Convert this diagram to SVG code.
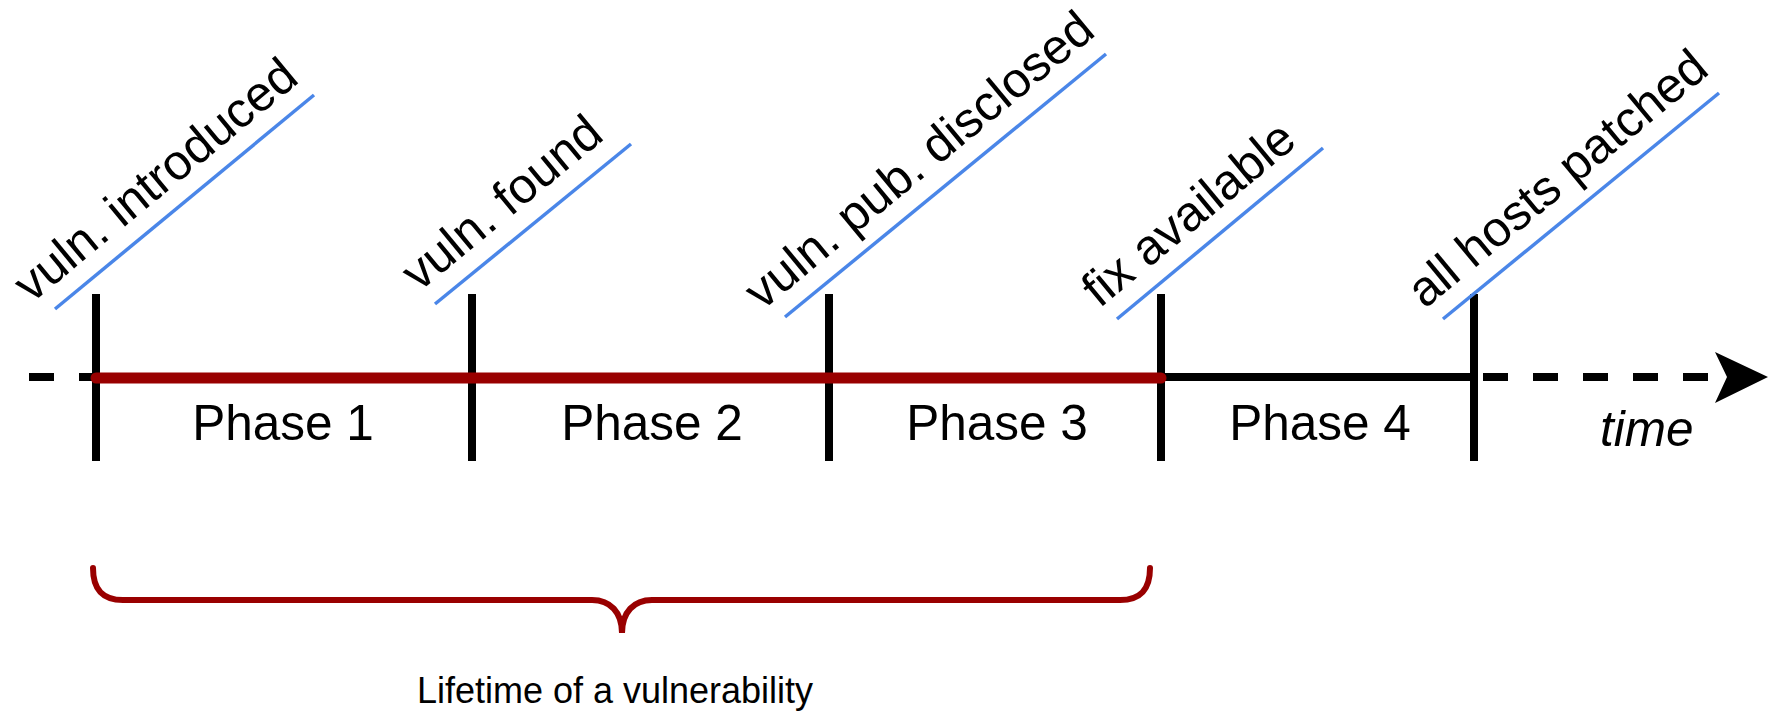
<svg xmlns="http://www.w3.org/2000/svg" width="1776" height="711" viewBox="0 0 1776 711">
<style>
.lbl{font-family:"Liberation Sans",Arial,Helvetica,sans-serif;font-size:49.5px;fill:#000}
.ul{stroke:#4a86e8;stroke-width:3.5;fill:none}
.tick{stroke:#000;stroke-width:8;fill:none}
.axis{stroke:#000;stroke-width:8;fill:none}
.dash{stroke:#000;stroke-width:8;fill:none;stroke-dasharray:25 25}
.life{stroke:#990000;stroke-width:11;stroke-linecap:round;fill:none}
.brace{stroke:#990000;stroke-width:6;stroke-linecap:round;fill:none}
</style>
<rect width="1776" height="711" fill="#fff"/>
<g id="connectors">
  <line class="dash" x1="29" y1="377" x2="96" y2="377"/>
  <line class="axis" x1="1161" y1="377" x2="1474" y2="377"/>
  <line class="dash" x1="1483" y1="377" x2="1710" y2="377"/>
  <polygon points="1715,352 1768,377 1715,403 1727,377" fill="#000"/>
</g>
<g id="ev-introduced">
  <line class="tick" x1="96" y1="294" x2="96" y2="461"/>
  <line class="ul" x1="55" y1="309" x2="314" y2="95"/>
  <text class="lbl" transform="translate(55,309) rotate(-39.6)" x="-15" y="-19">vuln. introduced</text>
</g>
<g id="ev-found">
  <line class="tick" x1="472" y1="294" x2="472" y2="461"/>
  <line class="ul" x1="435" y1="304" x2="631" y2="144"/>
  <text class="lbl" transform="translate(435,304) rotate(-39.6)" x="-5" y="-19">vuln. found</text>
</g>
<g id="ev-disclosed">
  <line class="tick" x1="829" y1="294" x2="829" y2="461"/>
  <line class="ul" x1="785" y1="317" x2="1106" y2="54"/>
  <text class="lbl" transform="translate(785,317) rotate(-39.6)" x="-14" y="-19">vuln. pub. disclosed</text>
</g>
<g id="ev-fix">
  <line class="tick" x1="1161" y1="294" x2="1161" y2="461"/>
  <line class="ul" x1="1117" y1="319" x2="1323" y2="148"/>
  <text class="lbl" transform="translate(1117,319) rotate(-39.6)" x="-7" y="-19">fix available</text>
</g>
<g id="ev-patched">
  <line class="tick" x1="1474" y1="294" x2="1474" y2="461"/>
  <line class="ul" x1="1443" y1="319" x2="1719" y2="93"/>
  <text class="lbl" transform="translate(1443,319) rotate(-39.6)" x="-8" y="-19">all hosts patched</text>
</g>
<g id="lifetime-line">
  <line class="life" x1="96" y1="378" x2="1161" y2="378"/>
</g>
<g id="phase1"><text class="lbl" x="283" y="440" text-anchor="middle">Phase 1</text></g>
<g id="phase2"><text class="lbl" x="652" y="440" text-anchor="middle">Phase 2</text></g>
<g id="phase3"><text class="lbl" x="997" y="440" text-anchor="middle">Phase 3</text></g>
<g id="phase4"><text class="lbl" x="1320" y="440" text-anchor="middle">Phase 4</text></g>
<g id="time"><text class="lbl" x="1600" y="446" font-style="italic">time</text></g>
<g id="brace">
  <path class="brace" d="M93,568 C93,590 103,600 123,600 L592,600 C610,600 622,612 622,633 C622,612 634,600 652,600 L1120,600 C1140,600 1150,590 1150,568"/>
</g>
<g id="lifetime-label"><text class="lbl" x="615" y="703" text-anchor="middle" style="font-size:36px">Lifetime of a vulnerability</text></g>
</svg>
